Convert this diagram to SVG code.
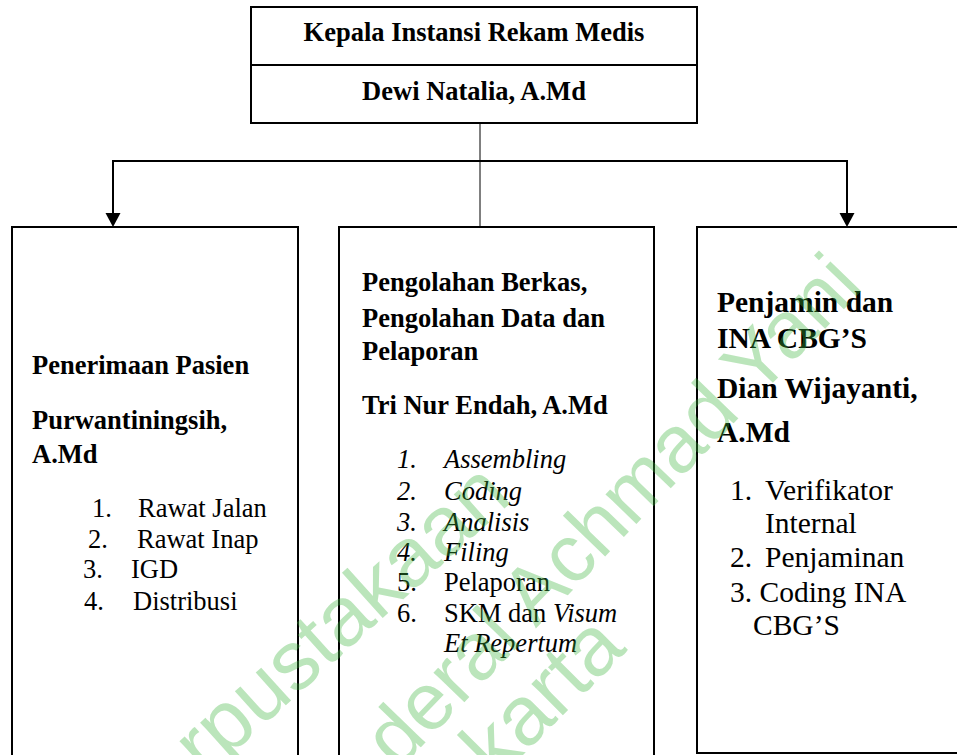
<svg xmlns="http://www.w3.org/2000/svg" width="957" height="755" viewBox="0 0 957 755">
<style>
.box{fill:#fff;stroke:#000;stroke-width:2}
.t{font-family:'Liberation Serif','Tinos','DejaVu Serif',serif;font-size:26.5px;fill:#000}
.b{font-weight:bold}
.i{font-style:italic}
.r{font-size:29.5px}
.c{text-anchor:middle}
.ln{fill:none;stroke:#000;stroke-width:2}
.wm{font-family:'Liberation Sans','Arimo','DejaVu Sans',sans-serif;font-size:84px;fill:#3cb43c;fill-opacity:0.35}
</style>
<rect width="957" height="755" fill="#fff"/>
<g id="connectors">
<line x1="480" y1="123" x2="480" y2="227" stroke="#000" stroke-width="1"/>
<polyline class="ln" points="113,214 113,161 847,161 847,214"/>
<path d="M105.5,213 L120.5,213 L113,227 Z" fill="#000"/>
<path d="M839.5,213 L854.5,213 L847,227 Z" fill="#000"/>
</g>
<g id="head" font-family="Liberation Serif, Tinos, DejaVu Serif, serif">
<rect class="box" x="251" y="7" width="446" height="116"/>
<line x1="251" y1="65" x2="697" y2="65" stroke="#000" stroke-width="2"/>
<text class="t b c" x="474" y="41">Kepala Instansi Rekam Medis</text>
<text class="t b c" x="474" y="100">Dewi Natalia, A.Md</text>
</g>
<g id="penerimaan" font-family="Liberation Serif, Tinos, DejaVu Serif, serif">
<path class="ln" d="M12,756 V227 H298 V756"/>
<text class="t b" x="32" y="374">Penerimaan Pasien</text>
<text class="t b" x="32" y="429">Purwantiningsih,</text>
<text class="t b" x="32" y="463">A.Md</text>
<text class="t" x="92" y="517">1.</text><text class="t" x="138" y="517">Rawat Jalan</text>
<text class="t" x="88" y="548">2.</text><text class="t" x="137" y="548">Rawat Inap</text>
<text class="t" x="83" y="578">3.</text><text class="t" x="131" y="578">IGD</text>
<text class="t" x="84" y="610">4.</text><text class="t" x="133" y="610">Distribusi</text>
</g>
<g id="pengolahan" font-family="Liberation Serif, Tinos, DejaVu Serif, serif">
<path class="ln" d="M339,756 V227 H654 V756"/>
<text class="t b" x="362" y="291">Pengolahan Berkas,</text>
<text class="t b" x="362" y="327">Pengolahan Data dan</text>
<text class="t b" x="362" y="360">Pelaporan</text>
<text class="t b" x="362" y="414">Tri Nur Endah, A.Md</text>
<text class="t i" x="397" y="468">1.</text><text class="t i" x="444" y="468">Assembling</text>
<text class="t i" x="397" y="500">2.</text><text class="t i" x="444" y="500">Coding</text>
<text class="t i" x="397" y="531">3.</text><text class="t i" x="444" y="531">Analisis</text>
<text class="t i" x="397" y="561">4.</text><text class="t i" x="444" y="561">Filing</text>
<text class="t" x="397" y="591">5.</text><text class="t" x="444" y="591">Pelaporan</text>
<text class="t" x="397" y="622">6.</text><text class="t" x="444" y="622">SKM dan <tspan class="i">Visum</tspan></text>
<text class="t i" x="444" y="652">Et Repertum</text>
</g>
<g id="penjamin" font-family="Liberation Serif, Tinos, DejaVu Serif, serif">
<rect class="box" x="697" y="227" width="262" height="526"/>
<text class="t b r" x="717" y="312">Penjamin dan</text>
<text class="t b r" x="717" y="348">INA CBG’S</text>
<text class="t b r" x="717" y="398">Dian Wijayanti,</text>
<text class="t b r" x="717" y="442">A.Md</text>
<text class="t r" x="730" y="500">1.</text><text class="t r" x="765" y="500">Verifikator</text>
<text class="t r" x="765" y="533">Internal</text>
<text class="t r" x="730" y="567">2.</text><text class="t r" x="765" y="567">Penjaminan</text>
<text class="t r" x="730" y="602">3. Coding INA</text>
<text class="t r" x="753" y="635">CBG’S</text>
</g>
<g id="watermark" font-family="Liberation Sans, Arimo, DejaVu Sans, sans-serif">
<text class="wm" transform="translate(205,778) rotate(-42)">rpustakaan</text>
<text class="wm" transform="translate(398,771) rotate(-46)" style="font-size:81px">deral Achmad Yani</text>
<text class="wm" transform="translate(496,782) rotate(-45)">karta</text>
</g>
</svg>
